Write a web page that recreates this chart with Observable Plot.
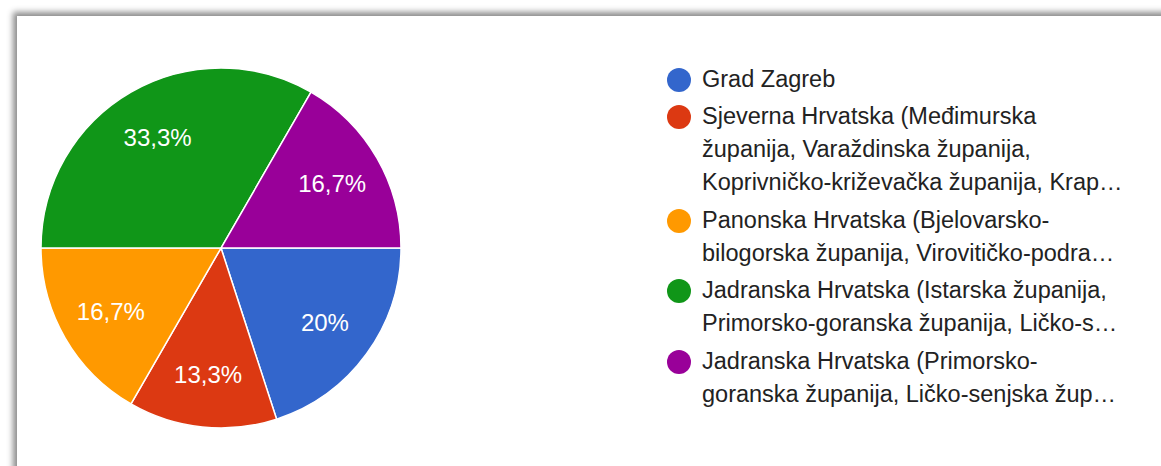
<!DOCTYPE html>
<html>
<head>
<meta charset="utf-8">
<script src="https://cdn.jsdelivr.net/npm/d3@7"></script>
<script src="https://cdn.jsdelivr.net/npm/@observablehq/plot@0.6"></script>
<style>
  html, body { margin: 0; padding: 0; background: #ffffff; width: 1161px; height: 466px; overflow: hidden; }
  #frame { position: absolute; left: 17px; top: 16px; width: 1200px; height: 520px; background: #fff;
           box-shadow: -4px -4px 6px rgba(0,0,0,0.45); }
  #chart { position: absolute; left: 1px; top: 28px; }
  #legend { position: absolute; left: 667px; top: 62.5px; font-family: "Liberation Sans", Arial, sans-serif;
            font-size: 23.5px; line-height: 33px; color: #222222; }
  .item { position: relative; padding-left: 35px; margin-bottom: 4.5px; white-space: nowrap; }
  .dot { position: absolute; left: 0; top: 5px; width: 24px; height: 24px; border-radius: 50%; }
</style>
</head>
<body>
<div id="frame"></div>
<div id="chart"></div>
<div id="legend"></div>
<script>
// ---- data ----
const categories = [
  "Grad Zagreb",
  "Sjeverna Hrvatska (Međimurska županija, Varaždinska županija, Koprivničko-križevačka županija, Krap…",
  "Panonska Hrvatska (Bjelovarsko-bilogorska županija, Virovitičko-podra…",
  "Jadranska Hrvatska (Istarska županija, Primorsko-goranska županija, Ličko-s…",
  "Jadranska Hrvatska (Primorsko-goranska županija, Ličko-senjska žup…"
];
const legendLines = [
  ["Grad Zagreb"],
  ["Sjeverna Hrvatska (Međimurska", "županija, Varaždinska županija,", "Koprivničko-križevačka županija, Krap…"],
  ["Panonska Hrvatska (Bjelovarsko-", "bilogorska županija, Virovitičko-podra…"],
  ["Jadranska Hrvatska (Istarska županija,", "Primorsko-goranska županija, Ličko-s…"],
  ["Jadranska Hrvatska (Primorsko-", "goranska županija, Ličko-senjska žup…"]
];
const counts = [6, 4, 5, 10, 5];
const colors = ["#3366cc", "#dc3912", "#ff9900", "#109618", "#990099"];

// ---- derived table ----
const total = d3.sum(counts);
const pie = d3.pie().sort(null).value(d => d.count)
  .startAngle(Math.PI / 2).endAngle(Math.PI / 2 + 2 * Math.PI);
const rows = categories.map((c, i) => ({category: c, count: counts[i], color: colors[i]}));
const arcs = pie(rows);
const labelR = 0.71;
const fmt = v => {
  const p = Math.round(v / total * 1000) / 10;
  return (Number.isInteger(p) ? String(p) : p.toFixed(1).replace(".", ",")) + "%";
};
const labels = arcs.map(a => {
  const m = (a.startAngle + a.endAngle) / 2;
  return {x: labelR * Math.sin(m), y: -labelR * Math.cos(m), text: fmt(a.data.count)};
});

// custom pie mark drawn through Plot's x/y/color scales
function pieMark(index, scales, values, dimensions, context) {
  const cx = scales.x(0), cy = scales.y(0);
  const r = scales.x(1) - scales.x(0);
  const arc = d3.arc().innerRadius(0).outerRadius(r);
  const g = d3.create("svg:g").attr("transform", `translate(${cx},${cy})`);
  g.selectAll("path").data(arcs).join("path")
    .attr("d", arc)
    .attr("fill", d => scales.color(d.data.category))
    .attr("stroke", "#ffffff")
    .attr("stroke-width", 1.5)
    .attr("stroke-linejoin", "round");
  return g.node();
}

const plot = Plot.plot({
  width: 440,
  height: 440,
  margin: 0,
  x: {domain: [-1, 1], range: [40, 400], axis: null},
  y: {domain: [-1, 1], range: [40, 400], axis: null},
  color: {domain: categories, range: colors},
  style: {background: "transparent", overflow: "visible"},
  marks: [
    pieMark,
    Plot.text(labels, {
      x: "x", y: "y", text: "text", fill: "#ffffff",
      fontSize: 24, fontFamily: "Liberation Sans, Arial, sans-serif"
    })
  ]
});
document.getElementById("chart").appendChild(plot);

// legend
const legend = d3.select("#legend");
legendLines.forEach((lines, i) => {
  const item = legend.append("div").attr("class", "item");
  item.append("span").attr("class", "dot").style("background", colors[i]);
  lines.forEach(t => item.append("div").text(t));
});
</script>
</body>
</html>
